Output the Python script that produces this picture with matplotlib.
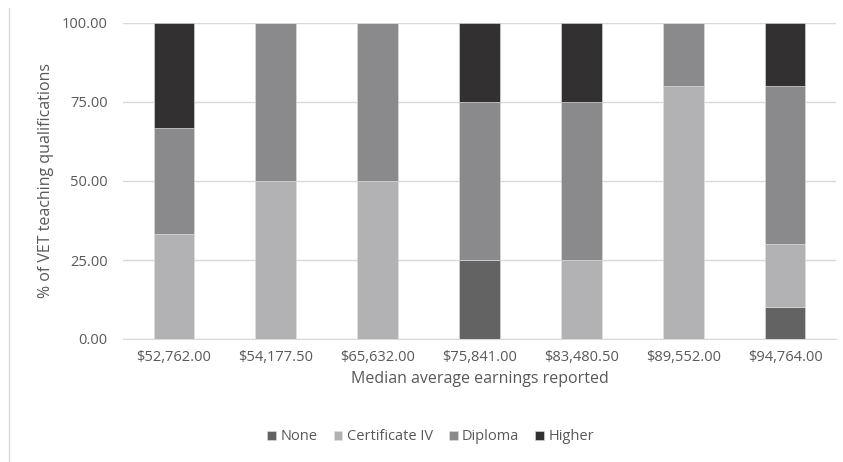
import matplotlib
matplotlib.use("Agg")
import matplotlib.pyplot as plt
import numpy as np

categories = ["$52,762.00", "$54,177.50", "$65,632.00", "$75,841.00",
              "$83,480.50", "$89,552.00", "$94,764.00"]
none_vals = [0, 0, 0, 25, 0, 0, 10]
cert4_vals = [33.33, 50, 50, 0, 25, 80, 20]
diploma_vals = [33.33, 50, 50, 50, 50, 20, 50]
higher_vals = [33.34, 0, 0, 25, 25, 0, 20]
series_names = ["None", "Certificate IV", "Diploma", "Higher"]
yticks = [0, 25, 50, 75, 100]

colors = ["#636363", "#b2b2b4", "#8a8a8c", "#323031"]
text_color = "#595959"

plt.rcParams["font.family"] = ["Open Sans", "DejaVu Sans"]

fig = plt.figure(figsize=(8.43, 4.62), dpi=100)
ax = fig.add_axes([123 / 843, 1 - 339 / 462, (836 - 123) / 843, (339 - 23) / 462])

x = np.arange(len(categories))
bottom = np.zeros(len(categories))
for name, vals, c in zip(series_names, [none_vals, cert4_vals, diploma_vals, higher_vals], colors):
    vals = np.array(vals, dtype=float)
    ax.bar(x, vals, width=0.4, bottom=bottom, color=c, label=name,
           edgecolor="#e0e0e0", linewidth=0.4, zorder=3)
    bottom += vals

ax.set_xlim(-0.5, len(categories) - 0.5)
ax.set_ylim(0, 100)
ax.set_yticks(yticks)
ax.set_yticklabels([f"{v:.2f}" for v in yticks])
ax.set_xticks(x)
ax.set_xticklabels(categories)
ax.grid(axis="y", color="#d9d9d9", linewidth=1, zorder=0)
for s in ["top", "right", "left"]:
    ax.spines[s].set_visible(False)
ax.spines["bottom"].set_color("#d9d9d9")
ax.tick_params(axis="both", length=0, colors=text_color, labelsize=10.5)
ax.tick_params(axis="x", pad=8)
ax.tick_params(axis="y", pad=11)

ax.set_xlabel("Median average earnings reported", color=text_color, fontsize=11.5, labelpad=4)
ax.set_ylabel("% of VET teaching qualifications", color=text_color, fontsize=11.5, labelpad=6)

leg = fig.legend(loc="center", bbox_to_anchor=(0.511, 1 - 437 / 462), ncol=4,
                 frameon=False, fontsize=10.5, handlelength=0.6, handleheight=0.6,
                 handletextpad=0.3, columnspacing=1.1)
for t in leg.get_texts():
    t.set_color(text_color)

# thin frame line at the left edge of the chart
fig.add_artist(plt.Line2D([9 / 843, 9 / 843], [0, 1 - 8 / 462], transform=fig.transFigure,
                          color="#d9d9d9", linewidth=1))

fig.savefig("out.png", dpi=100)
